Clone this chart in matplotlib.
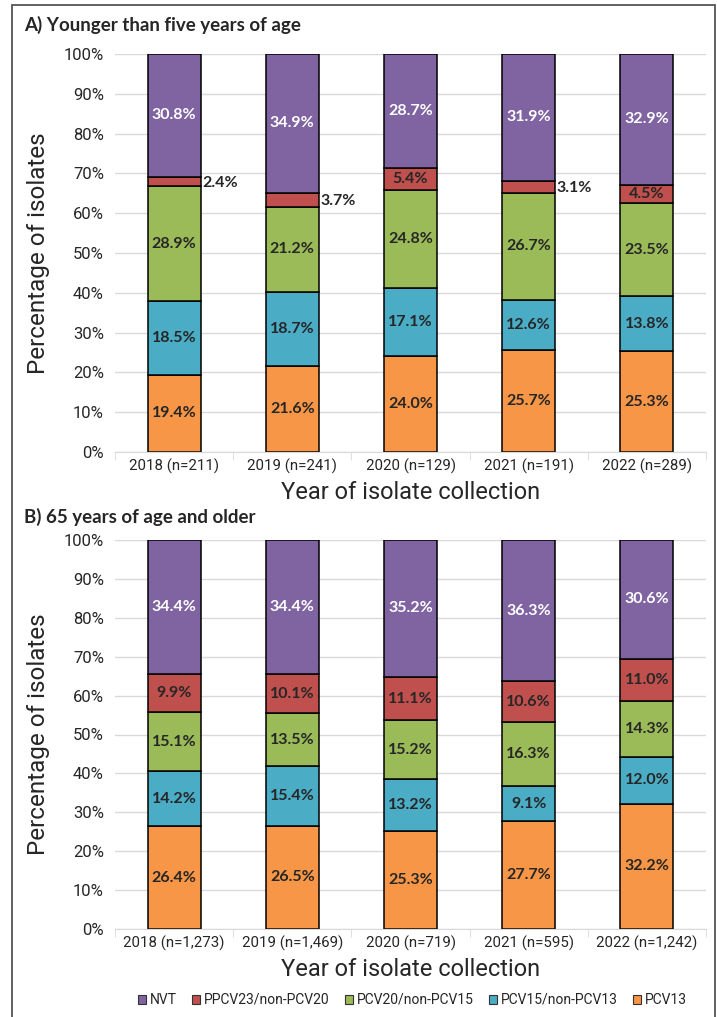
import matplotlib.pyplot as plt
from matplotlib.patches import Rectangle, Patch

# Serotype groups, stacked from the bottom up
groups = ["PCV13", "PCV15/non-PCV13", "PCV20/non-PCV15", "PPCV23/non-PCV20", "NVT"]
colors = ["#F79646", "#4BACC6", "#9BBB59", "#C0504D", "#8064A2"]

years_a = ["2018 (n=211)", "2019 (n=241)", "2020 (n=129)", "2021 (n=191)", "2022 (n=289)"]
pcv13_a = [19.4, 21.6, 24.0, 25.7, 25.3]
pcv15_a = [18.5, 18.7, 17.1, 12.6, 13.8]
pcv20_a = [28.9, 21.2, 24.8, 26.7, 23.5]
ppcv23_a = [2.4, 3.7, 5.4, 3.1, 4.5]
nvt_a = [30.8, 34.9, 28.7, 31.9, 32.9]

years_b = ["2018 (n=1,273)", "2019 (n=1,469)", "2020 (n=719)", "2021 (n=595)", "2022 (n=1,242)"]
pcv13_b = [26.4, 26.5, 25.3, 27.7, 32.2]
pcv15_b = [14.2, 15.4, 13.2, 9.1, 12.0]
pcv20_b = [15.1, 13.5, 15.2, 16.3, 14.3]
ppcv23_b = [9.9, 10.1, 11.1, 10.6, 11.0]
nvt_b = [34.4, 34.4, 35.2, 36.3, 30.6]

NARROW = ["Roboto", "DejaVu Sans"]
BOLD = ["Lato", "DejaVu Sans"]
TXT = "#262626"

W, H = 717, 1017
fig = plt.figure(figsize=(W / 100, H / 100), dpi=100)

# outer frame
fig.patches.append(Rectangle((12 / W, -0.01), (715 - 12) / W, 1 - 5 / H + 0.01,
                             transform=fig.transFigure, fill=False,
                             edgecolor="#555555", linewidth=1.3))


def panel(rect, title, title_y, years, series):
    ax = fig.add_axes(rect)
    x = range(len(years))
    bottom = [0.0] * len(years)
    for vals, col, name in zip(series, colors, groups):
        ax.bar(x, vals, width=0.45, bottom=bottom, color=col,
               edgecolor="black", linewidth=1.1, zorder=3)
        for i, v in enumerate(vals):
            yc = bottom[i] + v / 2
            tc = "white" if name == "NVT" else TXT
            if v < 4.0:
                ax.text(i + 0.235, yc - 0.3, f"{v:.1f}%", ha="left", va="center",
                        fontsize=11.5, fontweight="bold", color=TXT, family=BOLD)
            else:
                ax.text(i, yc, f"{v:.1f}%", ha="center", va="center",
                        fontsize=11.5, fontweight="bold", color=tc, family=BOLD)
        bottom = [b + v for b, v in zip(bottom, vals)]

    ax.set_xlim(-0.5, len(years) - 0.5)
    ax.set_ylim(0, 100)
    ax.set_yticks(range(0, 101, 10))
    ax.set_yticklabels([f"{t}%" for t in range(0, 101, 10)],
                       fontsize=12, color=TXT, family=NARROW)
    ax.set_xticks(list(x))
    ax.set_xticklabels(years, fontsize=10.8, color=TXT, family=NARROW)
    ax.set_xticks([i - 0.5 for i in range(len(years) + 1)], minor=True)
    ax.tick_params(axis="x", which="major", length=0, pad=5)
    ax.tick_params(axis="x", which="minor", length=6, color="#D9D9D9")
    ax.tick_params(axis="y", length=0, pad=8)
    ax.grid(axis="y", color="#D9D9D9", linewidth=1, zorder=0)
    for s in ["top", "right", "left"]:
        ax.spines[s].set_visible(False)
    ax.spines["bottom"].set_color("#D9D9D9")
    ax.spines["bottom"].set_zorder(4)
    ax.set_xlabel("Year of isolate collection", fontsize=17, color=TXT,
                  family=NARROW, labelpad=5)
    ax.set_ylabel("Percentage of isolates", fontsize=17.5, color=TXT,
                  family=NARROW, labelpad=10)
    fig.text(24 / W, 1 - title_y / H, title, ha="left", va="center",
             fontsize=13.5, fontweight="bold", color=TXT, family=BOLD)
    return ax


panel([115 / W, 1 - 452 / H, 591 / W, 398 / H], "A) Younger than five years of age", 25,
      years_a, [pcv13_a, pcv15_a, pcv20_a, ppcv23_a, nvt_a])
panel([115 / W, 1 - 929 / H, 591 / W, 389 / H], "B) 65 years of age and older", 517,
      years_b, [pcv13_b, pcv15_b, pcv20_b, ppcv23_b, nvt_b])

# legend, NVT first
handles = [Patch(facecolor=c, edgecolor="#333333", linewidth=0.8, label=g)
           for g, c in zip(groups[::-1], colors[::-1])]
fig.legend(handles=handles, loc="center", bbox_to_anchor=(0.575, 1 - 1000 / H),
           ncol=5, frameon=False, prop={"family": NARROW, "size": 10},
           handlelength=0.6, handleheight=0.6, handletextpad=0.25, columnspacing=1.1,
           labelcolor=TXT)

fig.savefig("out.png", dpi=100)
